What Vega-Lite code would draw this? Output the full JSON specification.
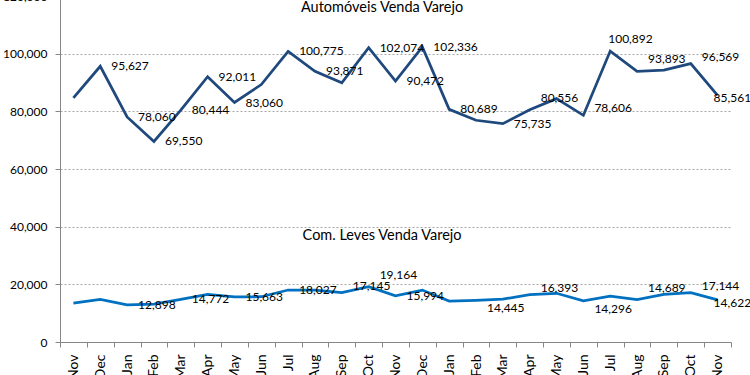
{
  "$schema": "https://vega.github.io/schema/vega-lite/v6.json",
  "width": 671,
  "height": 346,
  "autosize": {"type": "none"},
  "padding": {"left": 60, "top": -4, "right": 19, "bottom": 33},
  "background": "white",
  "config": {
    "view": {"stroke": null},
    "font": "Lato",
    "axis": {
      "domainColor": "#868686",
      "tickColor": "#868686",
      "labelColor": "#000000",
      "labelFontSize": 12,
      "labelFont": "Lato",
      "tickSize": 5,
      "title": null
    }
  },
  "data": {
    "values": [
      {"date": "2011-11-15", "series": "Automóveis Venda Varejo", "value": 84700},
      {"date": "2011-12-15", "series": "Automóveis Venda Varejo", "value": 95627},
      {"date": "2012-01-15", "series": "Automóveis Venda Varejo", "value": 78060},
      {"date": "2012-02-15", "series": "Automóveis Venda Varejo", "value": 69550},
      {"date": "2012-03-15", "series": "Automóveis Venda Varejo", "value": 80444},
      {"date": "2012-04-15", "series": "Automóveis Venda Varejo", "value": 92011},
      {"date": "2012-05-15", "series": "Automóveis Venda Varejo", "value": 83060},
      {"date": "2012-06-15", "series": "Automóveis Venda Varejo", "value": 89300},
      {"date": "2012-07-15", "series": "Automóveis Venda Varejo", "value": 100775},
      {"date": "2012-08-15", "series": "Automóveis Venda Varejo", "value": 93871},
      {"date": "2012-09-15", "series": "Automóveis Venda Varejo", "value": 89900},
      {"date": "2012-10-15", "series": "Automóveis Venda Varejo", "value": 102074},
      {"date": "2012-11-15", "series": "Automóveis Venda Varejo", "value": 90472},
      {"date": "2012-12-15", "series": "Automóveis Venda Varejo", "value": 102336},
      {"date": "2013-01-15", "series": "Automóveis Venda Varejo", "value": 80689},
      {"date": "2013-02-15", "series": "Automóveis Venda Varejo", "value": 76900},
      {"date": "2013-03-15", "series": "Automóveis Venda Varejo", "value": 75735},
      {"date": "2013-04-15", "series": "Automóveis Venda Varejo", "value": 80556},
      {"date": "2013-05-15", "series": "Automóveis Venda Varejo", "value": 84400},
      {"date": "2013-06-15", "series": "Automóveis Venda Varejo", "value": 78606},
      {"date": "2013-07-15", "series": "Automóveis Venda Varejo", "value": 100892},
      {"date": "2013-08-15", "series": "Automóveis Venda Varejo", "value": 93893},
      {"date": "2013-09-15", "series": "Automóveis Venda Varejo", "value": 94300},
      {"date": "2013-10-15", "series": "Automóveis Venda Varejo", "value": 96569},
      {"date": "2013-11-15", "series": "Automóveis Venda Varejo", "value": 85561},
      {"date": "2011-11-15", "series": "Com. Leves Venda Varejo", "value": 13500},
      {"date": "2011-12-15", "series": "Com. Leves Venda Varejo", "value": 14800},
      {"date": "2012-01-15", "series": "Com. Leves Venda Varejo", "value": 12898},
      {"date": "2012-02-15", "series": "Com. Leves Venda Varejo", "value": 13100},
      {"date": "2012-03-15", "series": "Com. Leves Venda Varejo", "value": 14772},
      {"date": "2012-04-15", "series": "Com. Leves Venda Varejo", "value": 16500},
      {"date": "2012-05-15", "series": "Com. Leves Venda Varejo", "value": 15663},
      {"date": "2012-06-15", "series": "Com. Leves Venda Varejo", "value": 15700},
      {"date": "2012-07-15", "series": "Com. Leves Venda Varejo", "value": 18027},
      {"date": "2012-08-15", "series": "Com. Leves Venda Varejo", "value": 18000},
      {"date": "2012-09-15", "series": "Com. Leves Venda Varejo", "value": 17145},
      {"date": "2012-10-15", "series": "Com. Leves Venda Varejo", "value": 19164},
      {"date": "2012-11-15", "series": "Com. Leves Venda Varejo", "value": 15994},
      {"date": "2012-12-15", "series": "Com. Leves Venda Varejo", "value": 18000},
      {"date": "2013-01-15", "series": "Com. Leves Venda Varejo", "value": 14200},
      {"date": "2013-02-15", "series": "Com. Leves Venda Varejo", "value": 14445},
      {"date": "2013-03-15", "series": "Com. Leves Venda Varejo", "value": 14870},
      {"date": "2013-04-15", "series": "Com. Leves Venda Varejo", "value": 16393},
      {"date": "2013-05-15", "series": "Com. Leves Venda Varejo", "value": 16900},
      {"date": "2013-06-15", "series": "Com. Leves Venda Varejo", "value": 14296},
      {"date": "2013-07-15", "series": "Com. Leves Venda Varejo", "value": 15900},
      {"date": "2013-08-15", "series": "Com. Leves Venda Varejo", "value": 14689},
      {"date": "2013-09-15", "series": "Com. Leves Venda Varejo", "value": 16500},
      {"date": "2013-10-15", "series": "Com. Leves Venda Varejo", "value": 17144},
      {"date": "2013-11-15", "series": "Com. Leves Venda Varejo", "value": 14622}
    ]
  },
  "layer": [
    {
      "mark": {"type": "line", "strokeWidth": 2.75},
      "encoding": {
        "x": {
          "field": "date", "timeUnit": "utcyearmonth", "type": "ordinal", "bandPosition": 0.5,
          "scale": {"type": "band", "paddingInner": 0, "paddingOuter": 0},
          "axis": {"format": "%b", "labelAngle": -90, "tickBand": "extent", "grid": false, "labelPadding": 7, "labelFontSize": 14}
        },
        "y": {
          "field": "value", "type": "quantitative",
          "scale": {"domain": [0, 120000], "nice": false},
          "axis": {"values": [0, 20000, 40000, 60000, 80000, 100000, 120000], "format": ",d", "grid": true, "gridColor": "#a6a6a6", "gridDash": [2, 2], "labelPadding": 8}
        },
        "color": {
          "field": "series", "type": "nominal",
          "scale": {"domain": ["Automóveis Venda Varejo", "Com. Leves Venda Varejo"], "range": ["#1F497D", "#0070C0"]},
          "legend": null
        }
      }
    },
    {
      "transform": [{"filter": "(datum.series == 'Automóveis Venda Varejo' && indexof(['2011-12','2012-01','2012-02','2012-03','2012-04','2012-05','2012-07','2012-08','2012-10','2012-11','2012-12','2013-01','2013-03'], utcFormat(datum.date, '%Y-%m')) >= 0) || (datum.series == 'Com. Leves Venda Varejo' && indexof(['2012-01','2012-03','2012-05','2012-07','2012-11'], utcFormat(datum.date, '%Y-%m')) >= 0)"}],
      "mark": {"type": "text", "align": "left", "baseline": "middle", "dx": 11, "dy": 0, "fontSize": 12, "color": "#000000"},
      "encoding": {
        "x": {"field": "date", "timeUnit": "utcyearmonth", "type": "ordinal", "bandPosition": 0.5},
        "y": {"field": "value", "type": "quantitative"},
        "text": {"field": "value", "type": "quantitative", "format": ",d"}
      }
    },
    {
      "transform": [{"filter": "(datum.series == 'Automóveis Venda Varejo' && indexof(['2013-04','2013-08'], utcFormat(datum.date, '%Y-%m')) >= 0) || (datum.series == 'Com. Leves Venda Varejo' && indexof(['2012-10','2013-08'], utcFormat(datum.date, '%Y-%m')) >= 0)"}],
      "mark": {"type": "text", "align": "left", "baseline": "middle", "dx": 11, "dy": -12, "fontSize": 12, "color": "#000000"},
      "encoding": {
        "x": {"field": "date", "timeUnit": "utcyearmonth", "type": "ordinal", "bandPosition": 0.5},
        "y": {"field": "value", "type": "quantitative"},
        "text": {"field": "value", "type": "quantitative", "format": ",d"}
      }
    },
    {
      "transform": [{"filter": "(datum.series == 'Automóveis Venda Varejo' && indexof(['2013-06','2013-10'], utcFormat(datum.date, '%Y-%m')) >= 0) || (datum.series == 'Com. Leves Venda Varejo' && indexof(['2012-09','2013-04','2013-10'], utcFormat(datum.date, '%Y-%m')) >= 0)"}],
      "mark": {"type": "text", "align": "left", "baseline": "middle", "dx": 11, "dy": -7, "fontSize": 12, "color": "#000000"},
      "encoding": {
        "x": {"field": "date", "timeUnit": "utcyearmonth", "type": "ordinal", "bandPosition": 0.5},
        "y": {"field": "value", "type": "quantitative"},
        "text": {"field": "value", "type": "quantitative", "format": ",d"}
      }
    },
    {
      "transform": [{"filter": "datum.series == 'Com. Leves Venda Varejo' && indexof(['2013-02','2013-06'], utcFormat(datum.date, '%Y-%m')) >= 0"}],
      "mark": {"type": "text", "align": "left", "baseline": "middle", "dx": 11, "dy": 8, "fontSize": 12, "color": "#000000"},
      "encoding": {
        "x": {"field": "date", "timeUnit": "utcyearmonth", "type": "ordinal", "bandPosition": 0.5},
        "y": {"field": "value", "type": "quantitative"},
        "text": {"field": "value", "type": "quantitative", "format": ",d"}
      }
    },
    {
      "transform": [{"filter": "datum.series == 'Automóveis Venda Varejo' && utcFormat(datum.date, '%Y-%m') == '2013-07'"}],
      "mark": {"type": "text", "align": "left", "baseline": "middle", "dx": -2, "dy": -12, "fontSize": 12, "color": "#000000"},
      "encoding": {
        "x": {"field": "date", "timeUnit": "utcyearmonth", "type": "ordinal", "bandPosition": 0.5},
        "y": {"field": "value", "type": "quantitative"},
        "text": {"field": "value", "type": "quantitative", "format": ",d"}
      }
    },
    {
      "transform": [{"filter": "utcFormat(datum.date, '%Y-%m') == '2013-11'"}],
      "mark": {"type": "text", "align": "left", "baseline": "middle", "dx": -4, "dy": 3, "fontSize": 12, "color": "#000000"},
      "encoding": {
        "x": {"field": "date", "timeUnit": "utcyearmonth", "type": "ordinal", "bandPosition": 0.5},
        "y": {"field": "value", "type": "quantitative"},
        "text": {"field": "value", "type": "quantitative", "format": ",d"}
      }
    },
    {
      "transform": [{"filter": "utcFormat(datum.date, '%Y-%m') == '2012-11' && datum.series == 'Automóveis Venda Varejo'"}],
      "mark": {"type": "text", "align": "center", "baseline": "middle", "fontSize": 14.5, "color": "#000000"},
      "encoding": {
        "x": {"field": "date", "timeUnit": "utcyearmonth", "type": "ordinal", "bandPosition": 0},
        "y": {"datum": 116000, "type": "quantitative"},
        "text": {"field": "series", "type": "nominal"}
      }
    },
    {
      "transform": [{"filter": "utcFormat(datum.date, '%Y-%m') == '2012-11' && datum.series == 'Com. Leves Venda Varejo'"}],
      "mark": {"type": "text", "align": "center", "baseline": "middle", "fontSize": 14.5, "color": "#000000"},
      "encoding": {
        "x": {"field": "date", "timeUnit": "utcyearmonth", "type": "ordinal", "bandPosition": 0},
        "y": {"datum": 36760, "type": "quantitative"},
        "text": {"field": "series", "type": "nominal"}
      }
    }
  ]
}
